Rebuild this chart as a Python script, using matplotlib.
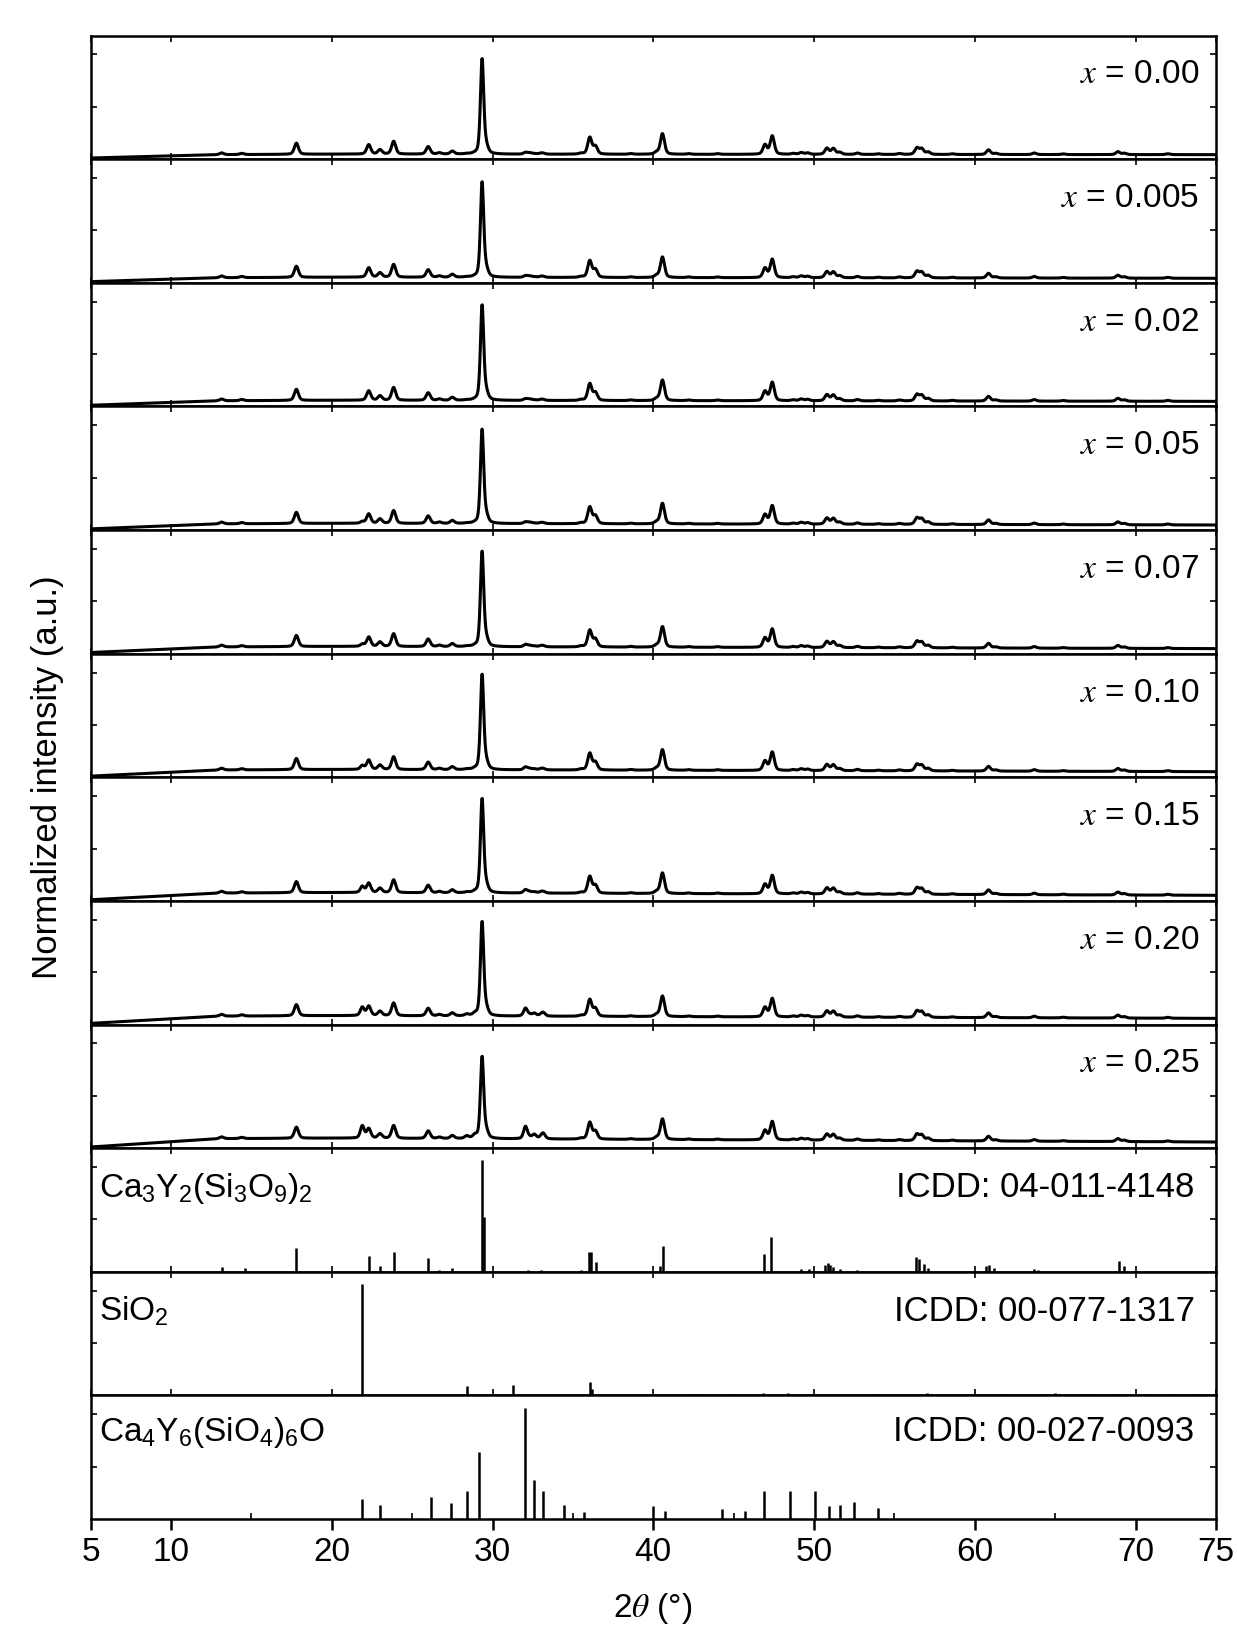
import numpy as np
import matplotlib
matplotlib.use('Agg')
import matplotlib.pyplot as plt

plt.rcParams['font.family'] = ['Liberation Sans', 'DejaVu Sans']
plt.rcParams['mathtext.fontset'] = 'stix'
plt.rcParams['mathtext.default'] = 'regular'
plt.rcParams['font.size'] = 24

# --- measured patterns: sample labels and per-panel values ---
samples = ['0.00', '0.005', '0.02', '0.05', '0.07', '0.10', '0.15', '0.20', '0.25']
main_amp = [0.85, 0.85, 0.85, 0.84, 0.85, 0.85, 0.84, 0.84, 0.73]   # 29.35 deg peak
sio2_amp = [0.0, 0.0, 0.0, 0.015, 0.02, 0.035, 0.055, 0.075, 0.11]  # 21.9 deg impurity
apat_amp = [0.015, 0.015, 0.015, 0.015, 0.02, 0.025, 0.03, 0.07, 0.11]  # 32.05 deg impurity
bg_13 = [0.04, 0.045, 0.05, 0.055, 0.06, 0.065, 0.07, 0.075, 0.085]
bg_75 = [0.04, 0.04, 0.045, 0.045, 0.045, 0.05, 0.05, 0.055, 0.055]

# common peaks of the host phase (position deg, height in panel units)
peak_pos = [13.15, 14.4, 17.8, 22.3, 23.0, 23.85, 26.0, 26.7, 27.5, 29.6,
            32.3, 33.0, 35.5, 36.05, 36.4, 38.6, 40.2, 40.57, 42.2, 44.0,
            46.95, 47.4, 48.7, 49.2, 49.6, 50.8, 51.2, 51.6, 52.7, 54.0,
            55.3, 56.4, 56.7, 57.1, 58.6, 60.85, 61.3, 63.7, 65.5, 68.9,
            69.3, 72.0]
peak_amp = [0.016, 0.011, 0.10, 0.085, 0.04, 0.115, 0.068, 0.012, 0.027, 0.06,
            0.012, 0.008, 0.008, 0.15, 0.07, 0.006, 0.018, 0.185, 0.006, 0.006,
            0.085, 0.165, 0.008, 0.016, 0.013, 0.055, 0.052, 0.018, 0.012, 0.006,
            0.008, 0.058, 0.05, 0.022, 0.006, 0.042, 0.01, 0.014, 0.006, 0.026,
            0.012, 0.008]
# extra apatite lines that grow with the impurity (relative to 32.05 line)
apat_pos = [32.6, 33.15, 28.9, 28.4]
apat_rel = [0.35, 0.45, 0.25, 0.2]

# --- ICDD reference sticks ---
ref_names = [r'Ca$_3$Y$_2$(Si$_3$O$_9$)$_2$', r'SiO$_2$', r'Ca$_4$Y$_6$(SiO$_4$)$_6$O']
ref_cards = ['ICDD: 04-011-4148', 'ICDD: 00-077-1317', 'ICDD: 00-027-0093']

cys_pos = [13.2, 14.6, 17.8, 22.3, 23.0, 23.85, 26.0, 26.7, 27.5, 29.35, 29.45,
           32.2, 33.0, 35.5, 36.0, 36.15, 36.45, 38.5, 40.4, 40.6, 42.2, 44.0,
           46.9, 47.35, 49.2, 49.7, 50.7, 50.85, 51.0, 51.2, 51.6, 52.7, 53.5,
           56.35, 56.55, 56.85, 57.1, 58.5, 60.7, 60.9, 61.2, 63.7, 63.95, 65.2,
           66.0, 68.95, 69.3, 71.0, 72.5]
cys_amp = [0.045, 0.03, 0.21, 0.145, 0.05, 0.175, 0.12, 0.02, 0.03, 1.0, 0.49,
           0.02, 0.02, 0.015, 0.18, 0.18, 0.09, 0.01, 0.05, 0.23, 0.01, 0.01,
           0.155, 0.31, 0.025, 0.025, 0.06, 0.075, 0.06, 0.04, 0.025, 0.015, 0.01,
           0.13, 0.11, 0.07, 0.03, 0.01, 0.05, 0.06, 0.035, 0.025, 0.02, 0.01,
           0.01, 0.1, 0.05, 0.01, 0.01]

sio2_pos = [21.9, 28.4, 31.3, 36.05, 36.2, 42.6, 44.7, 46.8, 48.4, 54.0,
            57.0, 57.3, 61.7, 64.4, 65.0, 65.3, 67.0, 68.8, 69.6, 70.5, 72.4, 73.6]
sio2_h = [1.0, 0.08, 0.09, 0.12, 0.06, 0.01, 0.012, 0.02, 0.022, 0.008,
          0.022, 0.01, 0.008, 0.01, 0.02, 0.012, 0.008, 0.01, 0.012, 0.008, 0.008, 0.008]

apa_pos = [21.9, 23.0, 26.15, 27.4, 28.4, 29.15, 32.05, 32.57, 33.15, 34.45,
           35.7, 40.0, 40.75, 44.3, 45.7, 46.9, 48.5, 50.05, 50.9, 51.6, 52.5, 54.0]
apa_h = [0.18, 0.13, 0.2, 0.145, 0.25, 0.6, 1.0, 0.35, 0.25, 0.13,
         0.065, 0.12, 0.074, 0.086, 0.074, 0.25, 0.25, 0.25, 0.12, 0.13, 0.15, 0.10]


def profile(x, pos, amp, fwhm):
    g = np.exp(-4 * np.log(2) * ((x - pos) / fwhm) ** 2)
    lo = 1 / (1 + (2 * (x - pos) / fwhm) ** 2)
    return amp * (0.6 * g + 0.4 * lo)


tt = np.arange(5, 75.001, 0.02)

fig, axes = plt.subplots(12, 1, sharex=True, figsize=(12.37, 16.33), dpi=100,
                         gridspec_kw={'hspace': 0})
fig.subplots_adjust(left=90.6 / 1237, right=1216 / 1237,
                    top=1 - 36.5 / 1633, bottom=1 - 1520 / 1633)

for i, ax in enumerate(axes[:9]):
    y = np.interp(tt, [5, 13, 20, 75], [0.01, bg_13[i], bg_13[i] + 0.005, bg_75[i]])
    for p, a in zip(peak_pos, peak_amp):
        y = y + profile(tt, p, a, 0.3)
    y = y + profile(tt, 29.35, main_amp[i], 0.24)
    y = y + profile(tt, 21.9, sio2_amp[i], 0.28)
    y = y + profile(tt, 32.05, apat_amp[i], 0.28)
    for p, r in zip(apat_pos, apat_rel):
        y = y + profile(tt, p, apat_amp[i] * r, 0.3)
    ax.plot(tt, y, color='black', lw=2.2)
    ax.text(0.985, 0.62, r'$\mathit{x}$ = ' + samples[i], transform=ax.transAxes,
            ha='right', va='baseline', fontsize=24)

ref_pos = [cys_pos, sio2_pos, apa_pos]
ref_amp = [cys_amp, sio2_h, apa_h]
name_y = [0.61, 0.61, 0.64]
for j, ax in enumerate(axes[9:]):
    ax.vlines(ref_pos[j], 0, ref_amp[j], color='black', lw=1.8)
    ax.text(0.0075, name_y[j], ref_names[j], transform=ax.transAxes,
            ha='left', va='baseline', fontsize=24)
    ax.text(0.981, name_y[j], ref_cards[j], transform=ax.transAxes,
            ha='right', va='baseline', fontsize=25)

for k, ax in enumerate(axes):
    ax.set_xlim(5, 75)
    ax.set_ylim(0, 1.11)
    ax.set_yticks([0.47, 0.94])
    ax.tick_params(axis='y', direction='in', left=True, right=True,
                   labelleft=False, length=4, width=1.2)
    for s in ax.spines.values():
        s.set_linewidth(1.8)
    if k < 11:
        ax.set_xticks(np.arange(5, 76, 5))
        ax.tick_params(axis='x', direction='in', top=True, bottom=True,
                       labelbottom=False, length=4, width=1.2)

bot = axes[-1]
bot.set_xticks([5, 10, 20, 30, 40, 50, 60, 70, 75])
bot.set_xticks(np.arange(15, 70, 10), minor=True)
bot.tick_params(axis='x', which='major', direction='out', length=8, width=1.8,
                labelsize=24, top=False, pad=4)
bot.tick_params(axis='x', which='minor', direction='in', length=4, width=1.2,
                top=False)

fig.text(0.528, 0.0147, r'2$\mathit{\theta}$ (°)', ha='center', va='center', fontsize=24)
fig.text(0.038, 0.524, 'Normalized intensity (a.u.)', rotation=90,
         ha='center', va='center', fontsize=25)

fig.savefig('out.png', dpi=100)
